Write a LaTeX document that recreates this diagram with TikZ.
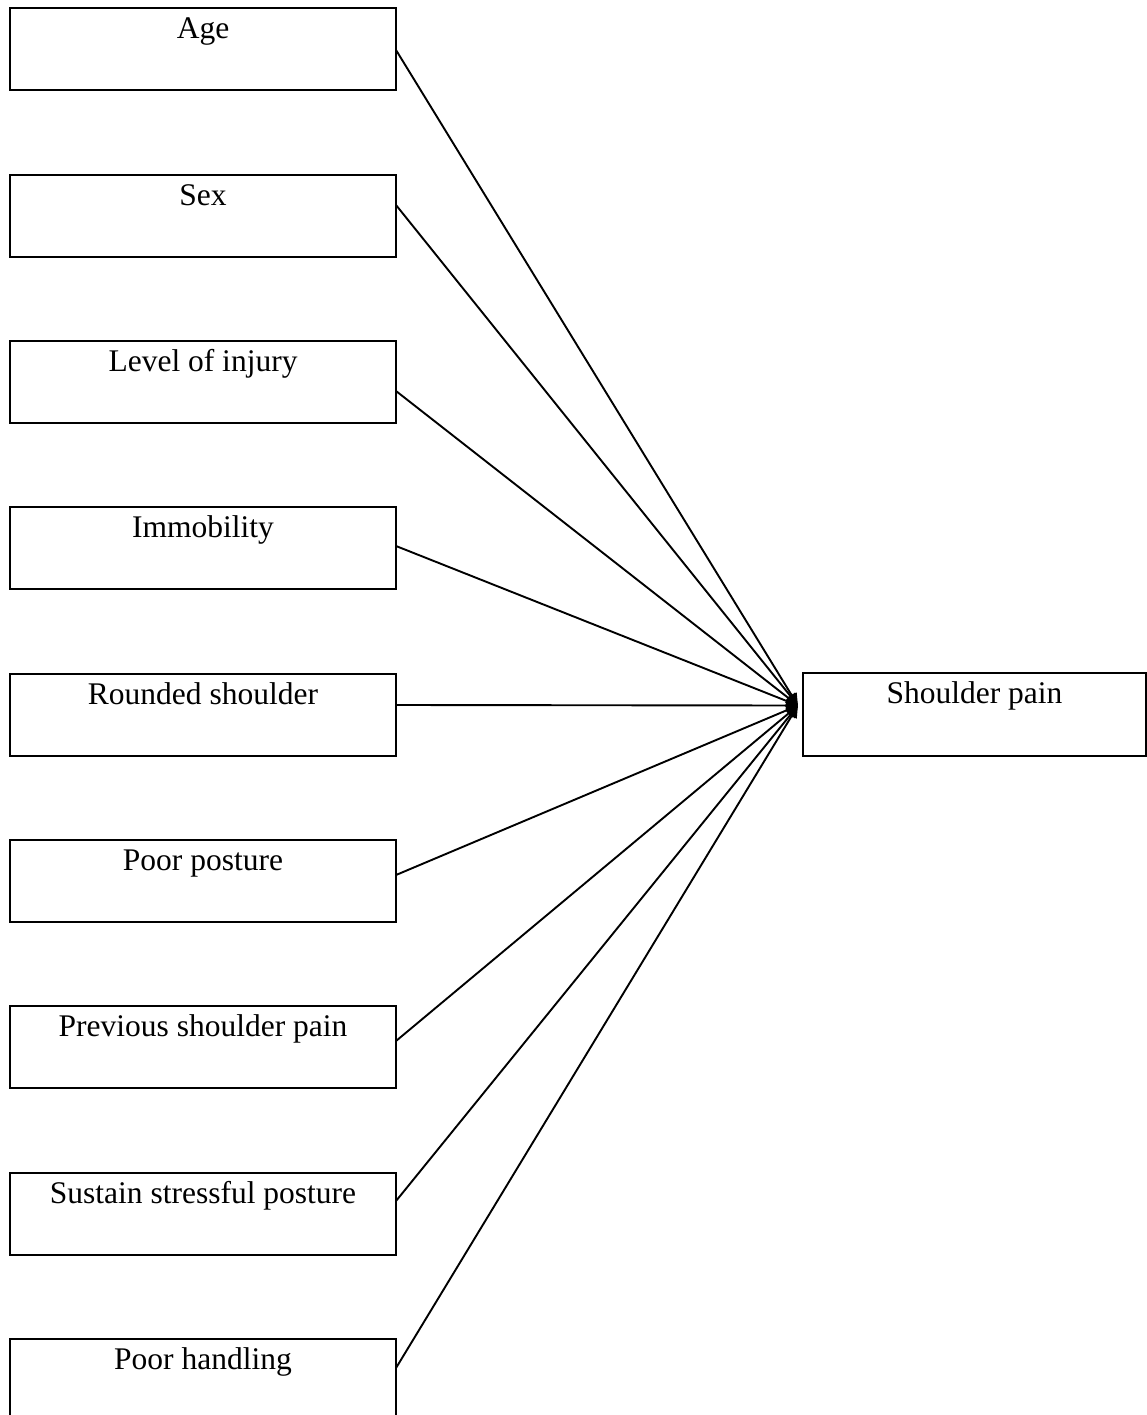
\documentclass[tikz,border=0pt]{standalone}
\usepackage{fontspec}
\setmainfont{Liberation Serif}
\usetikzlibrary{arrows.meta}
\begin{document}
\begin{tikzpicture}[x=1pt,y=1pt,
  box/.style={draw, line width=2pt, minimum width=386pt, minimum height=82pt, inner sep=0pt, outer sep=0pt},
  txt/.style={anchor=north, inner sep=0pt, text height=22pt, font=\fontsize{31.5}{36}\selectfont},
  conn/.style={line width=1.9pt, -{Triangle[length=12pt,width=11pt]}}]
\useasboundingbox (0,0) rectangle (1147,-1415);
\newcommand{\factor}[3]{%
  \node[box] (#1) at (203,-#2) {};
  \node[txt] (#1t) at ([yshift=-8pt]#1.north) {#3};}
\factor{age}{49}{Age}
\factor{sex}{216}{Sex}
\factor{lvl}{382}{Level of injury}
\factor{imm}{548}{Immobility}
\factor{rnd}{715}{Rounded shoulder}
\factor{pst}{881}{Poor posture}
\factor{prv}{1047}{Previous shoulder pain}
\factor{sus}{1214}{Sustain stressful posture}
\factor{hnd}{1380}{Poor handling}
\node[box, minimum width=343pt, minimum height=83pt] (sp) at (974.5,-714.5) {};
\node[txt] (spt) at ([yshift=-8pt]sp.north) {Shoulder pain};
\coordinate (tip) at ([yshift=9pt,xshift=-5pt]sp.west);
\draw[conn] ([yshift=-1pt]age.east) -- (tip);
\draw[conn] ([yshift=11pt]sex.east) -- (tip);
\draw[conn] ([yshift=-9pt]lvl.east) -- (tip);
\draw[conn] ([yshift=2pt]imm.east) -- (tip);
\draw[conn] ([yshift=10pt]rnd.east) -- (tip);
\draw[conn] ([yshift=6pt]pst.east) -- (tip);
\draw[conn] ([yshift=6pt]prv.east) -- (tip);
\draw[conn] ([yshift=13pt]sus.east) -- (tip);
\draw[conn] ([yshift=12pt]hnd.east) -- (tip);
\end{tikzpicture}
\end{document}
